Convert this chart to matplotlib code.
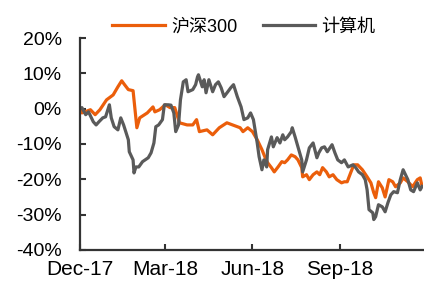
import matplotlib
matplotlib.use('Agg')
import matplotlib.pyplot as plt
import matplotlib.dates as mdates
import pandas as pd

# days since 2017-12-01 and cumulative return (%)
hs300_days = [0, 2, 11, 16, 21, 28, 35, 40, 44, 47, 51, 56, 60, 63, 71, 77, 79, 84, 90, 95,
              100, 105, 113, 119, 123, 126, 134, 140, 147, 155, 161, 169, 172, 177, 182, 187,
              192, 195, 198, 202, 205, 209, 213, 216, 219, 223, 227, 230, 234, 235, 239, 242,
              246, 250, 253, 256, 260, 263, 267, 271, 276, 279, 282, 286, 289, 293, 298, 303,
              307, 310, 312, 315, 319, 322, 326, 330, 333, 338, 341, 346, 351, 356, 359, 361]
hs300 = [0.0, -1.2, -0.3, -1.7, -0.3, 2.5, 3.9, 6.2, 7.9, 6.8, 5.4, 5.1, -5.4, -2.6, -1.2, 0.5,
         -0.9, -0.3, 1.1, 0.3, 0.3, -4.0, -4.6, -4.6, -3.1, -6.5, -6.0, -7.4, -5.4, -4.0, -4.6,
         -5.4, -6.5, -5.4, -6.5, -8.8, -11.6, -13.6, -15.3, -16.7, -17.9, -16.5, -15.0, -15.3,
         -14.5, -13.1, -13.6, -14.5, -16.7, -19.3, -18.7, -20.1, -18.7, -17.9, -18.7, -16.7,
         -17.9, -19.3, -18.7, -20.1, -21.0, -20.7, -20.7, -17.9, -15.9, -15.9, -17.3, -19.3,
         -21.0, -23.8, -25.2, -20.7, -22.4, -25.0, -20.1, -20.7, -22.1, -21.0, -19.6, -20.7,
         -22.1, -20.1, -19.6, -22.0]

comp_days = [0, 2, 6, 9, 14, 17, 20, 24, 27, 31, 33, 36, 40, 43, 46, 51, 52, 56, 57, 59, 62,
             66, 72, 75, 78, 80, 83, 87, 89, 93, 96, 99, 101, 104, 106, 109, 112, 114, 119, 122,
             124, 125, 129, 131, 133, 136, 140, 143, 146, 149, 152, 156, 159, 162, 166, 170, 173,
             177, 180, 183, 187, 189, 192, 194, 197, 198, 202, 204, 208, 211, 214, 216, 219, 223,
             224, 227, 230, 234, 235, 239, 242, 246, 250, 252, 255, 258, 261, 266, 269, 272, 276,
             279, 283, 288, 291, 294, 298, 301, 303, 305, 309, 310, 312, 315, 319, 322, 325, 328,
             331, 335, 338, 341, 346, 349, 352, 356, 359, 361]
computer = [0.0, 0.3, -1.7, -0.9, -3.7, -4.6, -3.7, -2.6, -2.3, 1.1, -2.6, -5.1, -6.0, -2.6,
            -4.6, -8.8, -12.2, -14.5, -18.2, -16.5, -16.5, -15.0, -13.9, -12.5, -9.7, -5.1, -4.6,
            -3.1, 1.1, 1.1, 1.0, -1.2, -6.5, -4.6, 2.5, 7.6, 8.2, 4.8, 5.4, 6.8, 9.0, 9.6, 6.2,
            8.2, 4.5, 8.2, 4.8, 6.8, 7.6, 5.9, 3.4, 4.8, 5.9, 6.8, 3.4, 0.5, -3.1, -2.6, -1.2,
            -3.1, -9.7, -13.6, -17.3, -14.5, -16.5, -11.6, -8.0, -10.8, -8.2, -9.7, -7.4, -8.8,
            -8.0, -6.5, -5.4, -8.0, -10.8, -14.5, -17.9, -14.5, -11.1, -9.7, -13.9, -12.5, -11.1,
            -10.8, -12.2, -10.2, -12.5, -14.5, -15.3, -14.5, -16.5, -15.9, -16.7, -17.9, -18.7,
            -20.1, -23.0, -28.6, -29.5, -31.4, -30.6, -27.2, -27.8, -29.2, -26.6, -24.4, -23.5,
            -23.8, -20.1, -17.3, -20.1, -23.0, -23.5, -21.0, -23.0, -22.0]

start = pd.Timestamp('2017-12-01')
hs300_dates = start + pd.to_timedelta(hs300_days, unit='D')
comp_dates = start + pd.to_timedelta(comp_days, unit='D')

plt.rcParams['font.family'] = ['Liberation Sans', 'Noto Sans CJK SC']

fig = plt.figure(figsize=(4.24, 2.84), dpi=100)
ax = fig.add_axes([0.1887, 0.120, 0.809, 0.746])

ax.plot(hs300_dates, [v / 100 for v in hs300], color='#EB5E0B', lw=2.3, label='沪深300')
ax.plot(comp_dates, [v / 100 for v in computer], color='#5A5A5A', lw=2.3, label='计算机')

ax.set_ylim(-0.40, 0.20)
ax.set_yticks([0.2, 0.1, 0.0, -0.1, -0.2, -0.3, -0.4])
ax.set_yticklabels(['20%', '10%', '0%', '-10%', '-20%', '-30%', '-40%'])
ax.set_xlim(start, start + pd.Timedelta(days=362))
ax.xaxis.set_major_locator(mdates.MonthLocator(bymonth=[12, 3, 6, 9]))
ax.xaxis.set_major_formatter(mdates.DateFormatter('%b-%y'))

for side in ['top', 'right']:
    ax.spines[side].set_visible(False)
for side in ['left', 'bottom']:
    ax.spines[side].set_color('#333333')
    ax.spines[side].set_linewidth(1.6)
ax.tick_params(axis='both', direction='in', length=4, width=1.5, color='#333333',
               labelsize=14, labelcolor='black')
ax.tick_params(axis='y', pad=13)
ax.tick_params(axis='x', pad=7, labelsize=15)

fig.legend(loc='center', bbox_to_anchor=(0.575, 0.905), ncol=2, frameon=False,
           fontsize=13, handlelength=2.9, handletextpad=0.35, columnspacing=1.4)

fig.savefig('out.png', dpi=100)
